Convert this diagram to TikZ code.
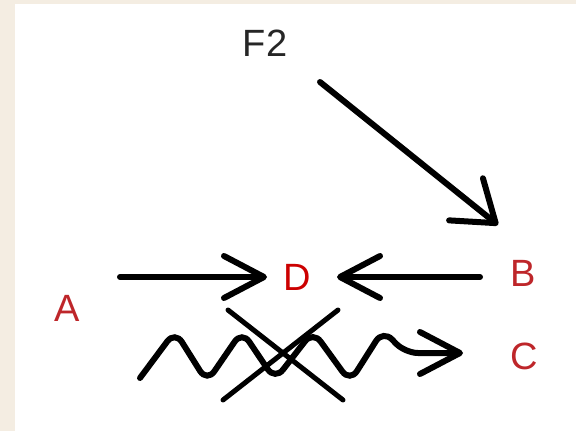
\documentclass[tikz,border=0pt]{standalone}
\usepackage{fontspec}
\setmainfont{Liberation Sans}
\usetikzlibrary{arrows.meta}

\definecolor{paper}{RGB}{244,237,226}
\definecolor{letterred}{RGB}{190,38,42}

\begin{document}
\begin{tikzpicture}[x=1pt,y=-1pt]
            \tikzstyle{every node}=[inner sep=0pt,font=\fontsize{38}{38}\selectfont]
            \tikzstyle{letter}=[text=letterred]
            \tikzstyle{arr}=[line width=6pt,line cap=round,-{Straight Barb[length=40pt,width=42pt,round]}]
            \tikzstyle{bar}=[line width=5pt,line cap=round]
            % paper and margins
            \fill[paper] (0,0) rectangle (576,431);
            \fill[white] (15,4) rectangle (576,431);
            \useasboundingbox (0,0) rectangle (576,431);
            % labels
            \node[text=black!85] (F2) at (265,43) {F2};
            \node[letter] (A) at (67,308) {A};
            \node[letter,text=red!80!black] (D) at (297,277) {D};
            \node[letter] (B) at (523,273) {B};
            \node[letter] (C) at (524,356) {C};
            % arrow ends
            \coordinate (f2out) at (320,82);
            \coordinate (bin) at (498,225);
            \coordinate (aout) at (120,277);
            \coordinate (dleft) at (267,277);
            \coordinate (bout) at (480,277);
            \coordinate (dright) at (337,277);
            \coordinate (wstart) at (140,378);
            \coordinate (cin) at (463,353);
            % arrows
            \draw[arr,-{Straight Barb[length=38pt,width=54pt,round]}] (f2out) -- (bin);
            \draw[arr] (aout) -- (dleft);
            \draw[arr] (bout) -- (dright);
            \draw[arr,rounded corners=13pt] (wstart) -- (175,331) -- (207,382) -- (242,331)
                -- (275,380) -- (313,331) -- (350,382) -- (383,330) -- (405,353) -- (cin);
            % crossing out
            \draw[bar] (228,310) -- (343,400);
            \draw[bar] (338,310) -- (223,400);
\end{tikzpicture}
\end{document}
